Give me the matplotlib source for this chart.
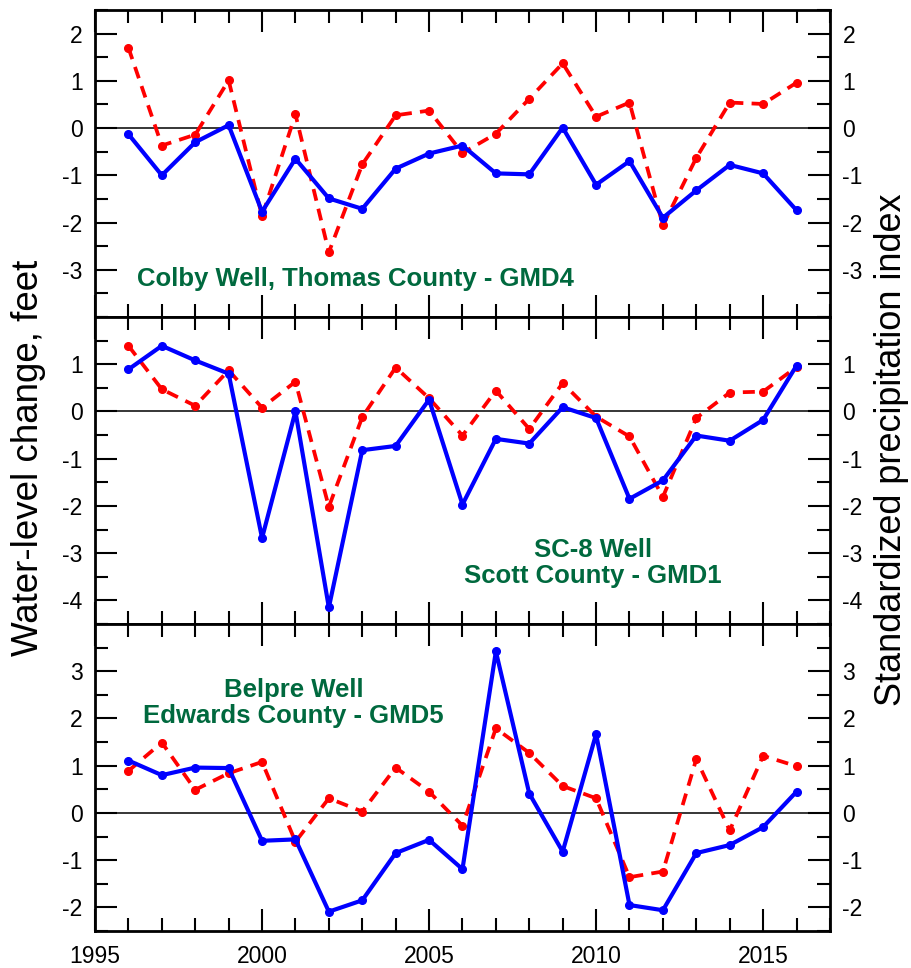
#!/usr/bin/env python3
"""
Annual water-level change vs standardized precipitation index
for three index wells (GMD4, GMD1, GMD5), 1996-2016.
"""

import matplotlib
matplotlib.use("Agg")
import matplotlib.pyplot as plt
from matplotlib.ticker import MultipleLocator

plt.rcParams['font.family'] = ['Liberation Sans', 'DejaVu Sans']
plt.rcParams['axes.unicode_minus'] = False

years = list(range(1996, 2017))

# Colby Well, Thomas County - GMD4
colby_wl = [-0.13, -1.00, -0.30, 0.06, -1.77, -0.65, -1.49, -1.71, -0.86, -0.54, -0.37,
            -0.96, -0.98, 0.01, -1.20, -0.70, -1.90, -1.32, -0.78, -0.96, -1.74]
colby_spi = [1.70, -0.37, -0.14, 1.01, -1.87, 0.29, -2.63, -0.77, 0.27, 0.37, -0.53,
             -0.12, 0.62, 1.37, 0.24, 0.54, -2.06, -0.63, 0.54, 0.51, 0.96]

# SC-8 Well, Scott County - GMD1
sc8_wl = [0.89, 1.39, 1.08, 0.80, -2.68, 0.00, -4.15, -0.82, -0.73, 0.25, -1.97,
          -0.58, -0.68, 0.09, -0.14, -1.85, -1.46, -0.51, -0.62, -0.18, 0.97]
sc8_spi = [1.39, 0.47, 0.12, 0.87, 0.08, 0.63, -2.02, -0.12, 0.93, 0.28, -0.51,
           0.44, -0.37, 0.60, -0.11, -0.53, -1.81, -0.14, 0.40, 0.42, 0.94]

# Belpre Well, Edwards County - GMD5
belpre_wl = [1.11, 0.80, 0.96, 0.95, -0.59, -0.56, -2.09, -1.85, -0.85, -0.57, -1.19,
             3.42, 0.41, -0.82, 1.67, -1.95, -2.06, -0.85, -0.68, -0.30, 0.45]
belpre_spi = [0.89, 1.49, 0.49, 0.84, 1.08, -0.61, 0.31, 0.03, 0.96, 0.45, -0.27,
              1.79, 1.27, 0.57, 0.31, -1.36, -1.24, 1.14, -0.37, 1.21, 0.99]

panels = [
    (colby_wl, colby_spi, (-4, 2.5), "Colby Well, Thomas County - GMD4", 1996.25, -3.2, 'left'),
    (sc8_wl, sc8_spi, (-4.5, 2), "SC-8 Well\nScott County - GMD1", 2009.9, -3.2, 'center'),
    (belpre_wl, belpre_spi, (-2.5, 4), "Belpre Well\nEdwards County - GMD5", 2000.95, 2.33, 'center'),
]

GREEN = '#00693E'

fig = plt.figure(figsize=(9.11, 9.68), dpi=100)
gs = fig.add_gridspec(3, 1, left=0.1043, right=0.911, bottom=0.0382, top=0.9897, hspace=0)

for i, (wl, spi, ylim, label, lx, ly, ha) in enumerate(panels):
    ax = fig.add_subplot(gs[i])
    ax.axhline(0, color='black', lw=1.1, zorder=1)
    ax.plot(years, spi, color='#FF0000', lw=2.7, ls=(0, (3.2, 2.2)),
            marker='o', ms=5.5, zorder=2)
    ax.plot(years, wl, color='#0000FF', lw=3.0, marker='o', ms=5.5, zorder=3)

    ax.set_xlim(1995, 2017)
    ax.set_ylim(*ylim)
    ax.xaxis.set_major_locator(MultipleLocator(5))
    ax.xaxis.set_minor_locator(MultipleLocator(1))
    ax.yaxis.set_major_locator(MultipleLocator(1))
    ax.yaxis.set_minor_locator(MultipleLocator(0.5))

    ax.tick_params(which='both', direction='in', top=True, bottom=True,
                   left=True, right=True, labelright=True, width=1.5,
                   labelsize=16.5, pad=9)
    ax.tick_params(which='major', length=15.5)
    ax.tick_params(which='minor', length=9.5)
    ax.tick_params(axis='x', labelbottom=(i == 2), pad=10)

    # drop the edge labels so stacked panels don't clash
    lo, hi = ylim
    ticks = [t for t in range(int(lo), int(hi) + 1) if lo < t < hi]
    ax.set_yticks(ticks)
    ax.set_yticklabels([str(t) for t in ticks])

    for s in ax.spines.values():
        s.set_linewidth(2.0)

    ax.text(lx, ly, label, color=GREEN, fontsize=18.5, fontweight='bold',
            ha=ha, va='center', linespacing=1.1)

fig.text(0.031, 0.527, 'Water-level change, feet', rotation=90, fontsize=26.5,
         ha='center', va='center')
fig.text(0.979, 0.535, 'Standardized precipitation index', rotation=90, fontsize=26,
         ha='center', va='center')

plt.savefig('out.png', dpi=100)
